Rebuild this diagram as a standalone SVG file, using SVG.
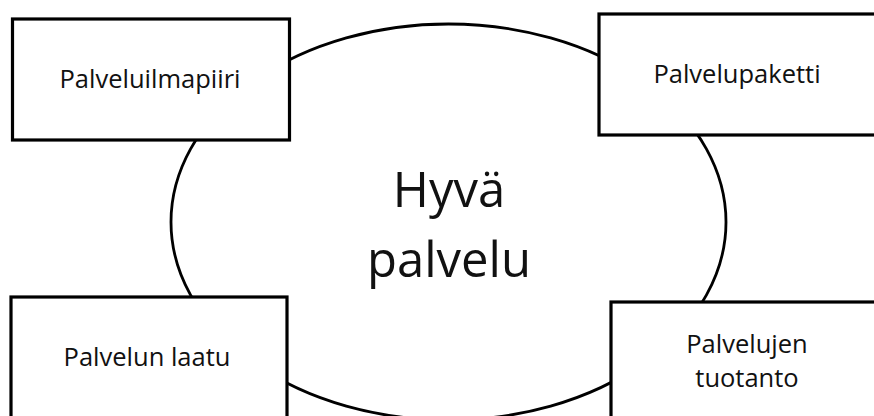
<svg xmlns="http://www.w3.org/2000/svg" width="874" height="416" viewBox="0 0 874 416">
  <style>
    .box { fill: #ffffff; stroke: #000000; stroke-width: 3.2; }
    .oval { fill: #ffffff; stroke: #000000; stroke-width: 2.8; }
    .lbl { font-family: "Open Sans", "Liberation Sans", sans-serif; font-size: 25.5px; fill: #111111; text-anchor: middle; }
    .big { font-family: "Open Sans", "Liberation Sans", sans-serif; font-size: 49px; fill: #111111; text-anchor: middle; }
  </style>
  <rect width="874" height="416" fill="#ffffff"/>

  <!-- central oval -->
  <g id="hyva-palvelu">
    <ellipse class="oval" cx="448.5" cy="222" rx="277.5" ry="198"/>
    <text class="big" x="449" y="207">Hyvä</text>
    <text class="big" x="449" y="277">palvelu</text>
  </g>

  <!-- surrounding boxes -->
  <g id="palveluilmapiiri">
    <rect class="box" x="12.5" y="19" width="277" height="121"/>
    <text class="lbl" x="150" y="88">Palveluilmapiiri</text>
  </g>

  <g id="palvelupaketti">
    <rect class="box" x="599" y="14" width="290" height="121"/>
    <text class="lbl" x="737" y="83">Palvelupaketti</text>
  </g>

  <g id="palvelun-laatu">
    <rect class="box" x="11" y="297" width="276" height="140"/>
    <text class="lbl" x="147" y="366">Palvelun laatu</text>
  </g>

  <g id="palvelujen-tuotanto">
    <rect class="box" x="611" y="302" width="290" height="140"/>
    <text class="lbl" x="747" y="353">Palvelujen</text>
    <text class="lbl" x="747" y="387">tuotanto</text>
  </g>

  <g id="connectors"></g>
</svg>
